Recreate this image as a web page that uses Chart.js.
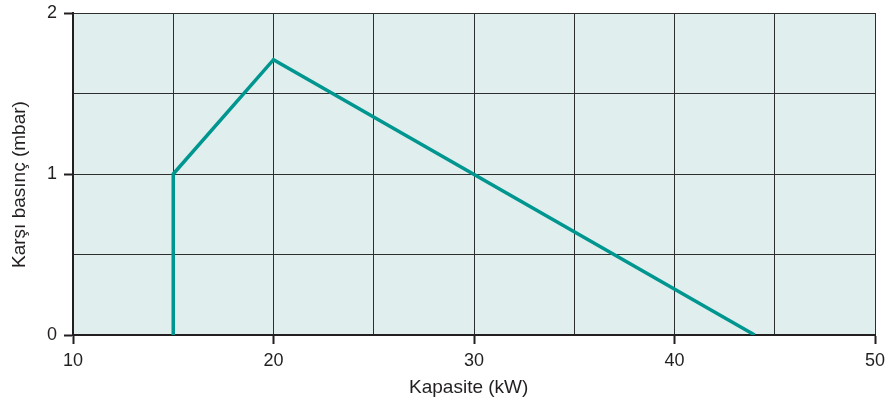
<!DOCTYPE html>
<html><head><meta charset="utf-8">
<script src="https://cdn.jsdelivr.net/npm/chart.js@4/dist/chart.umd.min.js"></script>
<style>html,body{margin:0;padding:0;background:#fff}#wrap{width:887px;height:409px}</style>
</head><body><div id="wrap"><canvas id="c" width="887" height="409"></canvas></div>
<script>
const capacity = [15, 15, 20, 44];
const backPressure = [0, 1, 1.71, 0];
const xTickLabels = [10, 20, 30, 40, 50];
const yTickLabels = [0, 1, 2];
const xTitle = 'Kapasite (kW)';
const yTitle = 'Karşı basınç (mbar)';

const points = capacity.map((x, i) => ({x: x, y: backPressure[i]}));
const bgPlugin = {
  id: 'bg',
  beforeDraw(chart) {
    const {ctx, chartArea: a} = chart;
    ctx.save();
    ctx.fillStyle = '#e0eeee';
    ctx.fillRect(a.left, a.top, a.right - a.left, a.bottom - a.top);
    ctx.restore();
  }
};
const ink = '#231f20';
const fam = 'Liberation Sans, Arial, Helvetica, sans-serif';
new Chart(document.getElementById('c'), {
  type: 'line',
  data: { datasets: [{ data: points, borderColor: '#009690', borderWidth: 3.5, pointRadius: 0, tension: 0, fill: false, borderJoinStyle: 'miter' }] },
  options: {
    responsive: false, animation: false,
    layout: { padding: { left: 0, top: 13, right: 12, bottom: 0 } },
    plugins: { legend: { display: false }, tooltip: { enabled: false } },
    scales: {
      x: {
        type: 'linear', min: 10, max: 50,
        afterFit(s) { s.height = 74; s.paddingLeft = 0; s.paddingRight = 0; },
        ticks: { stepSize: 5, autoSkip: false, maxRotation: 0, color: ink, padding: 6, font: { family: fam, size: 18 },
          callback: v => xTickLabels.includes(v) ? String(v) : '' },
        grid: { color: '#2e2e2e', lineWidth: 1, tickLength: 9,
          tickColor: c => (c.tick && xTickLabels.includes(c.tick.value)) ? ink : 'rgba(0,0,0,0)', tickWidth: 2 },
        border: { color: ink, width: 2 },
        title: { display: true, text: xTitle + '  ', color: ink, font: { family: fam, size: 19 }, padding: { top: 0, bottom: 10 } }
      },
      y: {
        min: 0, max: 2,
        afterFit(s) { s.width = 73; s.paddingTop = 0; s.paddingBottom = 0; },
        ticks: { stepSize: 0.5, autoSkip: false, color: ink, padding: 7, font: { family: fam, size: 18 },
          callback: v => yTickLabels.includes(v) ? String(v) : '' },
        grid: { color: '#2e2e2e', lineWidth: 1, tickLength: 9,
          tickColor: c => (c.tick && yTickLabels.includes(c.tick.value)) ? ink : 'rgba(0,0,0,0)', tickWidth: 2 },
        border: { color: ink, width: 2 },
        title: { display: true, text: yTitle + '    ', color: ink, font: { family: fam, size: 19 }, padding: { top: 8, bottom: 0 } }
      }
    }
  },
  plugins: [bgPlugin]
});
</script></body></html>
